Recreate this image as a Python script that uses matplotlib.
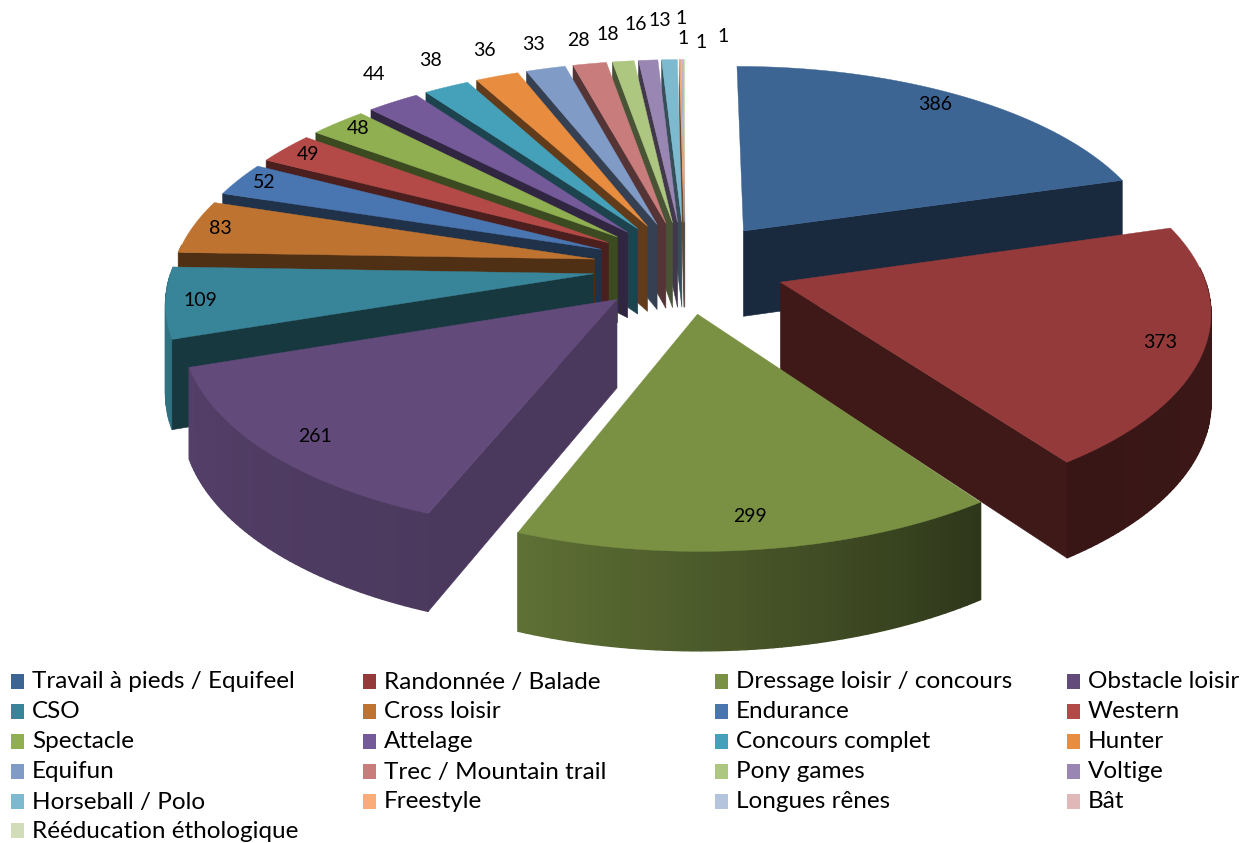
import numpy as np
import matplotlib
matplotlib.use('Agg')
import matplotlib.pyplot as plt
from matplotlib.patches import Rectangle

categories = ['Travail à pieds / Equifeel', 'Randonnée / Balade', 'Dressage loisir / concours', 'Obstacle loisir',
              'CSO', 'Cross loisir', 'Endurance', 'Western',
              'Spectacle', 'Attelage', 'Concours complet', 'Hunter',
              'Equifun', 'Trec / Mountain trail', 'Pony games', 'Voltige',
              'Horseball / Polo', 'Freestyle', 'Longues rênes', 'Bât',
              'Rééducation éthologique']
values = [386, 373, 299, 261, 109, 83, 52, 49, 48, 44, 38, 36, 33, 28, 18, 16, 13, 1, 1, 1, 1]
colors = ['#3C6594', '#953A3A', '#7A9144', '#624A7A', '#388599', '#BF7330', '#4976B1',
          '#B34A48', '#8FAF50', '#755A9A', '#45A1BA', '#E88D3F', '#7F9BC6', '#C87C7C',
          '#ADC680', '#9A86B2', '#7DBACF', '#F9AC78', '#B5C4DD', '#E0B8B7', '#D1DCB8']

# label centres in pixels, same order as values
label_xy = [(935, 104), (1160, 343), (750, 517), (315, 436), (200, 301), (220, 229), (264, 183),
            (308, 155), (358, 129), (374, 74), (431, 61), (484, 51), (534, 45), (578, 41),
            (608, 35), (636, 24), (660, 21), (681, 19), (683, 39), (701, 43), (723, 37)]

# camera settings fitted to the picture
CX, CY = 685, 267
FX, FY = 421, 194
PERSP = 0.127
EXPLODE = 0.2375
LEFT_SQUEEZE = 0.92
DEPTH = 87


def project(x, y, z=0.0):
    s = 1 + PERSP * y
    return CX + FX * x / s, CY - FY * y / s + DEPTH * z / (1 + 0.8 * PERSP * y)


def shade(color, f):
    r, g, b = matplotlib.colors.to_rgb(color)
    return (r * f, g * f, b * f)


def rim_shade(deg):
    return np.interp(deg, [70, 145, 201, 251, 360], [0.42, 0.38, 0.77, 0.85, 0.85])


fig = plt.figure(figsize=(12.43, 8.43), dpi=100)
ax = fig.add_axes([0, 0, 1, 1])
ax.set_xlim(0, 1243)
ax.set_ylim(843, 0)
ax.axis('off')

edges = np.concatenate([[0], np.cumsum(values)]) / sum(values) * 360


def draw_slice(i):
    a0, a1 = edges[i], edges[i + 1]
    mid = np.radians((a0 + a1) / 2)
    ox, oy = EXPLODE * np.sin(mid), EXPLODE * np.cos(mid)
    if ox < 0:
        ox *= LEFT_SQUEEZE
    th = np.radians(np.linspace(a0, a1, max(3, int(a1 - a0))))
    rx, ry = ox + np.sin(th), oy + np.cos(th)
    col = colors[i]

    # outer rim in small strips for the banded gradient, front part only
    for k in range(len(th) - 1):
        if np.cos((th[k] + th[k + 1]) / 2) > 0.08:
            continue
        p = [project(rx[k], ry[k]), project(rx[k + 1], ry[k + 1]),
             project(rx[k + 1], ry[k + 1], 1), project(rx[k], ry[k], 1)]
        deg = np.degrees((th[k] + th[k + 1]) / 2)
        ax.fill(*zip(*p), color=shade(col, rim_shade(deg)), lw=1)

    # radial walls, only the ones turned towards the viewer
    wall_f = 0.76 if i == 3 else 0.42
    if np.cos(np.radians(a0 - 90)) < 0:
        p = [project(ox, oy), project(rx[0], ry[0]), project(rx[0], ry[0], 1), project(ox, oy, 1)]
        ax.fill(*zip(*p), color=shade(col, wall_f), lw=0.4)
    if np.cos(np.radians(a1 + 90)) < 0:
        p = [project(ox, oy), project(rx[-1], ry[-1]), project(rx[-1], ry[-1], 1), project(ox, oy, 1)]
        ax.fill(*zip(*p), color=shade(col, wall_f), lw=0.4)

    # top face
    top = [project(ox, oy)] + [project(x, y) for x, y in zip(rx, ry)]
    ax.fill(*zip(*top), color=col, lw=0.3)


# back slices first, the big front ones last
order = [0] + list(range(len(values) - 1, 3, -1)) + [1, 3, 2]
for i in order:
    draw_slice(i)

for v, (x, y) in zip(values, label_xy):
    ax.text(x, y, str(v), ha='center', va='center', fontsize=14, family='Lato', color='black')

# legend, 4 columns filled row by row
col_x = [11, 363, 715, 1067]
row_y = [681, 711, 741, 771, 801, 830]
for i, name in enumerate(categories):
    x = col_x[i % 4]
    y = row_y[i // 4]
    ax.add_patch(Rectangle((x, y - 7.5), 13, 15, color=colors[i], lw=0))
    ax.text(x + 21, y + 1, name, ha='left', va='center', fontsize=17.5, family='Lato', color='black')

plt.savefig('out.png', dpi=100)
